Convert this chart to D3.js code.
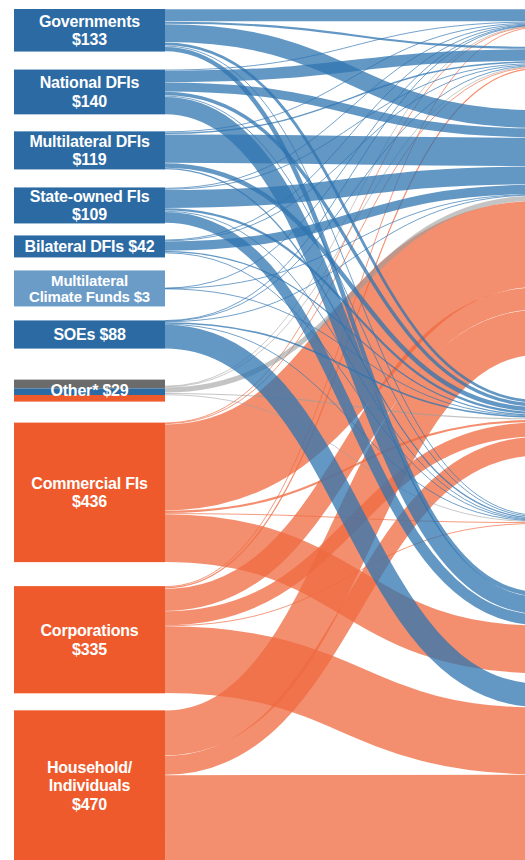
<!DOCTYPE html>
<html>
<head>
<meta charset="utf-8">
<script src="https://cdn.jsdelivr.net/npm/d3@7"></script>
<style>
  html, body { margin: 0; padding: 0; background: #fff; }
  svg { display: block; }
  .lbl { font-family: "Liberation Sans", Arial, sans-serif; font-weight: bold; font-size: 16px; fill: #fff; letter-spacing: -0.2px; }
</style>
</head>
<body>
<svg id="chart" width="525" height="860"></svg>
<script>
// sources of climate finance (USD bn)
var sources = ["Governments", "National DFIs", "Multilateral DFIs", "State-owned FIs", "Bilateral DFIs",
               "Multilateral Climate Funds", "SOEs", "Other*", "Commercial FIs", "Corporations", "Household/Individuals"];
var sourceValues = [133, 140, 119, 109, 42, 3, 88, 29, 436, 335, 470];
var sourceGroup = ["public", "public", "public", "public", "public", "fund", "public", "other", "private", "private", "private"];
var sourceLabels = [["Governments", "$133"], ["National DFIs", "$140"], ["Multilateral DFIs", "$119"],
                    ["State-owned FIs", "$109"], ["Bilateral DFIs $42"], ["Multilateral", "Climate Funds $3"],
                    ["SOEs $88"], ["Other* $29"], ["Commercial FIs", "$436"], ["Corporations", "$335"],
                    ["Household/", "Individuals", "$470"]];

// instruments: the next column, which sits just past the right edge
var instruments = ["Grant", "Low-cost project debt", "Project-level market rate debt", "Project-level equity",
                   "Unknown", "Balance sheet debt", "Balance sheet equity"];

// flows, one row per source, one column per instrument
var flows = [
  [39,  8,  57, 10,  4,  15,   0],  // Governments
  [ 3, 37,  29, 12,  4,  55,   0],  // National DFIs
  [ 3,  6,  90, 15,  5,   0,   0],  // Multilateral DFIs
  [ 2,  4,  57,  8,  3,  35,   0],  // State-owned FIs
  [ 2,  3,  30,  5,  2,   0,   0],  // Bilateral DFIs
  [ 1,  0, 1.5, .5,  0,   0,   0],  // Multilateral Climate Funds
  [ 1,  2,   2,  6,  2,   0,  75],  // SOEs
  [ 2,  2,  17,  5,  3,   0,   0],  // Other*
  [ 2,  3, 270,  8,  3, 150,   0],  // Commercial FIs
  [ 3,  5,  70, 45,  2,   0, 210],  // Corporations
  [ 0,  0, 142, 60,  0,   0, 268]   // Household/Individuals
];

// split of the Other* bar: unknown / public / private
var otherShares = [0.4, 0.3, 0.3];

// ---- layout ----
var nodeX0 = 14, nodeX1 = 165, targetX = 540;
var top0 = 9;
var srcGap = [0, 18, 17, 18, 12, 13, 14, 31, 21, 24, 17];
var tgtGap = [0, 19, 41, 45, 59, 68, 10];

var total = d3.sum(sourceValues);
var h = d3.scaleLinear().domain([0, total]).range([0, total * 0.32]);

var nodeColor = { "public": "#2b6aa3", "fund": "#6b9cc8", "other": "#6b6b6b", "private": "#ee5a2c" };
var linkColor = { "public": "#2f74b0", "fund": "#2f74b0", "other": "#9c9c9c", "private": "#ef6a3f" };
var otherColors = ["#6b6b6b", "#2b6aa3", "#ee5a2c"];

// source boxes
var y = top0;
var srcNodes = sources.map(function(name, i) {
  var flowH = h(sourceValues[i]);
  var lines = sourceLabels[i].length;
  var boxH = Math.max(flowH, 9 + 13 * lines, lines > 1 ? 36 : 0);
  y += srcGap[i];
  var n = { name: name, i: i, y0: y, y1: y + boxH, flowH: flowH, lines: lines };
  n.flowY = y + (boxH - flowH) / 2;
  y += boxH;
  return n;
});

// instrument nodes
var tgtValues = instruments.map(function(_, j) { return d3.sum(flows, function(r) { return r[j]; }); });
y = top0;
var tgtNodes = instruments.map(function(name, j) {
  y += tgtGap[j];
  var n = { name: name, y0: y, flowY: y };
  y += h(tgtValues[j]);
  n.y1 = y;
  return n;
});

// links, stacked like a sankey
var links = [];
srcNodes.forEach(function(s, i) {
  var off = s.flowY;
  flows[i].forEach(function(v, j) {
    if (!v) return;
    links.push({ s: i, t: j, value: v, sy: off + h(v) / 2 });
    off += h(v);
  });
});
tgtNodes.forEach(function(t, j) {
  var off = t.flowY;
  links.filter(function(l) { return l.t === j; })
       .sort(function(a, b) { return a.s - b.s; })
       .forEach(function(l) { l.ty = off + h(l.value) / 2; off += h(l.value); });
});

var svg = d3.select("#chart");
var linkPath = d3.linkHorizontal();

var order = { "private": 0, "other": 1, "fund": 2, "public": 2 };
links.sort(function(a, b) { return order[sourceGroup[a.s]] - order[sourceGroup[b.s]]; });

svg.append("g").selectAll("path")
  .data(links)
  .join("path")
    .attr("d", function(d) { return linkPath({ source: [nodeX1, d.sy], target: [targetX, d.ty] }); })
    .attr("fill", "none")
    .attr("stroke", function(d) { return linkColor[sourceGroup[d.s]]; })
    .attr("stroke-opacity", function(d) { return sourceGroup[d.s] === "other" ? 0.6 : 0.75; })
    .attr("stroke-width", function(d) { return Math.max(0.9, h(d.value) - 0.4); });

// source boxes
var nodes = svg.append("g").selectAll("g")
  .data(srcNodes)
  .join("g");

nodes.each(function(d) {
  var g = d3.select(this);
  var grp = sourceGroup[d.i];
  if (grp === "other") {
    var yy = d.y0;
    otherShares.forEach(function(sh, k) {
      var hh = (d.y1 - d.y0) * sh;
      g.append("rect").attr("x", nodeX0).attr("y", yy).attr("width", nodeX1 - nodeX0).attr("height", hh)
        .attr("fill", otherColors[k]);
      yy += hh;
    });
  } else {
    g.append("rect").attr("x", nodeX0).attr("y", d.y0).attr("width", nodeX1 - nodeX0).attr("height", d.y1 - d.y0)
      .attr("fill", nodeColor[grp]);
  }
  // only the tiny climate-funds box needs tighter type
  var small = d.lines > 1 && d.flowH < 20;
  var fs = small ? 15 : 16;
  var lh = small ? 16.5 : 18.5;
  var cy = (d.y0 + d.y1) / 2;
  var firstBase = cy - (d.lines - 1) * lh / 2 + fs * 0.36;
  var txt = g.append("text").attr("class", "lbl").attr("text-anchor", "middle").style("font-size", fs + "px");
  sourceLabels[d.i].forEach(function(line, k) {
    txt.append("tspan").attr("x", (nodeX0 + nodeX1) / 2).attr("y", firstBase + k * lh).text(line);
  });
});
</script>
</body>
</html>
